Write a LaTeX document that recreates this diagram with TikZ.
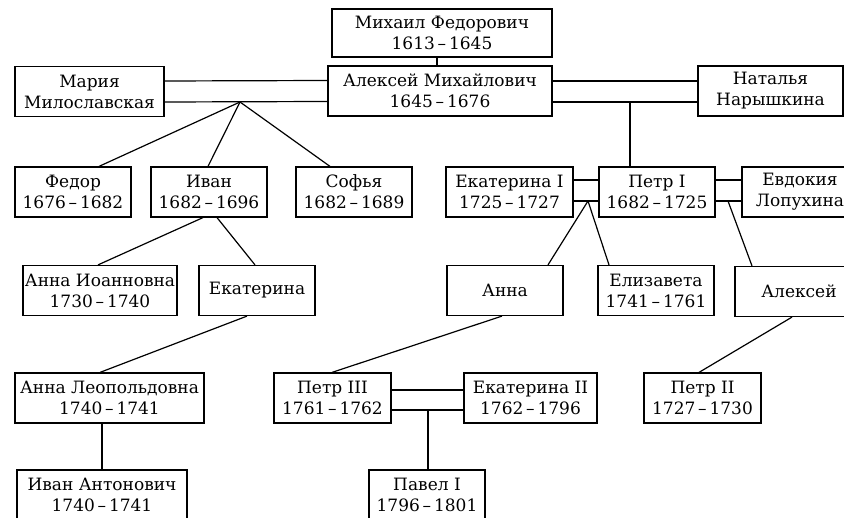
\documentclass[tikz,border=0pt]{standalone}
\usepackage{fontspec}
\setmainfont{DejaVu Serif}

\begin{document}
\begin{tikzpicture}[x=1pt,y=-1pt,line width=1.2pt,
  main node/.style={draw,align=center,inner sep=0pt,minimum width=116pt,
    minimum height=50pt,font=\fontsize{17}{21}\selectfont}]

  \useasboundingbox (0,0) rectangle (844,518);
  \clip (0,0) rectangle (844,518);

  \node[main node,minimum width=220pt,minimum height=48pt] (1) at (442,33) {Михаил Федорович\\1613\,–\,1645};
  \node[main node,minimum width=224pt] (2) at (440,91) {Алексей Михайлович\\1645\,–\,1676};
  \node[main node,minimum width=149pt] (3) at (89.5,91.5) {Мария\\Милославская};
  \node[main node,minimum width=145pt] (4) at (770.5,91) {Наталья\\Нарышкина};
  \node[main node]  (5) at (73,192) {Федор\\1676\,–\,1682};
  \node[main node]  (6) at (209,192) {Иван\\1682\,–\,1696};
  \node[main node]  (7) at (354,192) {Софья\\1682\,–\,1689};
  \node[main node,minimum width=127pt] (8) at (509.5,192) {Екатерина I\\1725\,–\,1727};
  \node[main node]  (9) at (657,192) {Петр I\\1682\,–\,1725};
  \node[main node]  (10) at (800,192) {Евдокия\\Лопухина};
  \node[main node,minimum width=154pt] (11) at (100,290.5) {Анна Иоанновна\\1730\,–\,1740};
  \node[main node]  (12) at (257,290.5) {Екатерина};
  \node[main node]  (13) at (505,290.5) {Анна};
  \node[main node]  (14) at (656,290.5) {Елизавета\\1741\,–\,1761};
  \node[main node,minimum width=128pt] (15) at (799,291.5) {Алексей};
  \node[main node,minimum width=189pt] (16) at (109.5,398) {Анна Леопольдовна\\1740\,–\,1741};
  \node[main node,minimum width=117pt] (17) at (332.5,398) {Петр III\\1761\,–\,1762};
  \node[main node,minimum width=133pt] (18) at (530.5,398) {Екатерина II\\1762\,–\,1796};
  \node[main node,minimum width=117pt] (19) at (702.5,398) {Петр II\\1727\,–\,1730};
  \node[main node,minimum width=170pt] (20) at (102,495) {Иван Антонович\\1740\,–\,1741};
  \node[main node]  (21) at (427,495) {Павел I\\1796\,–\,1801};

  % marriages
  \draw ([yshift=10.5pt]3.east) -- ([yshift=10.5pt]2.west)
        ([yshift=-10.5pt]3.east) -- ([yshift=-10.5pt]2.west);
  \draw ([yshift=10pt]2.east) -- ([yshift=10pt]4.west)
        ([yshift=-11pt]2.east) -- ([yshift=-11pt]4.west);
  \draw ([yshift=12pt]8.east) -- ([yshift=12pt]9.west)
        ([yshift=-9pt]8.east) -- ([yshift=-9pt]9.west);
  \draw ([yshift=12pt]9.east) -- ([yshift=12pt]10.west)
        ([yshift=-9pt]9.east) -- ([yshift=-9pt]10.west);
  \draw ([yshift=8pt]17.east) -- ([yshift=8pt]18.west)
        ([yshift=-12pt]17.east) -- ([yshift=-12pt]18.west);

  \coordinate (m1) at (240,102);
  \coordinate (m2) at (630,102);
  \coordinate (m3) at (588,201);
  \coordinate (m4) at (728,201);
  \coordinate (m5) at (428,410);

  % children
  \draw (1.south -| 2.north) ++(-3,0) coordinate (t) -- (t |- 2.north);
  \draw (m1) -- ([xshift=26pt]5.north);
  \draw (m1) -- ([xshift=-1pt]6.north);
  \draw (m1) -- ([xshift=-24pt]7.north);
  \draw (m2) -- (m2 |- 9.north);
  \draw ([xshift=-6pt]6.south) -- ([xshift=-2pt]11.north);
  \draw ([xshift=8pt]6.south) -- ([xshift=-2pt]12.north);
  \draw (m3) -- ([xshift=43pt]13.north);
  \draw (m3) -- ([xshift=-47pt]14.north);
  \draw (m4) -- ([xshift=-47pt]15.north);
  \draw ([xshift=-10pt]12.south) -- ([xshift=-9.5pt]16.north);
  \draw ([xshift=-3pt]13.south) -- ([xshift=-0.5pt]17.north);
  \draw ([xshift=-7pt]15.south) -- ([xshift=-3.5pt]19.north);
  \draw (20.north |- 16.south) -- (20.north);
  \draw (m5) -- (m5 |- 21.north);

\end{tikzpicture}
\end{document}
